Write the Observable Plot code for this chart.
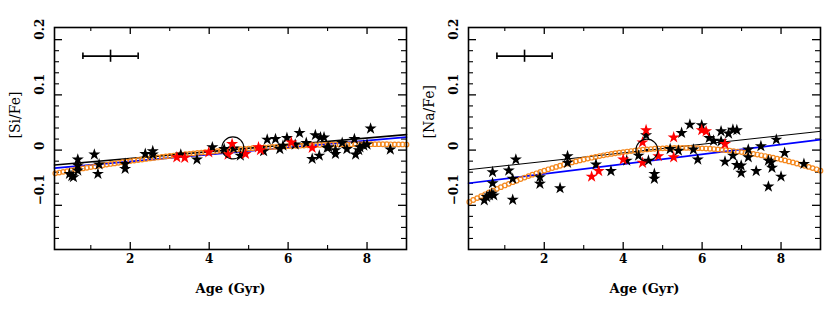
<!DOCTYPE html>
<html><head><meta charset="utf-8">
<script src="https://cdn.jsdelivr.net/npm/d3@7"></script>
<script src="https://cdn.jsdelivr.net/npm/@observablehq/plot@0.6"></script>
<style>
body{margin:0;background:#fff;}
#c{display:flex;width:830px;height:311px;}
#c svg{display:block;flex:none}
</style>
</head><body><div id="c"></div><script>
// ---------- axes ----------
const xDomain = [0.08, 9];
const yDomain = [-0.18, 0.222];
const xMajor = [2, 4, 6, 8];
const xMinor = [1, 3, 5, 7];
const yMajor = [-0.1, 0, 0.1, 0.2];
const yMinor = [-0.16,-0.14,-0.12,-0.08,-0.06,-0.04,-0.02,0.02,0.04,0.06,0.08,0.12,0.14,0.16,0.18];
const xLabel = "Age (Gyr)";
const yLabels = ["[Si/Fe]", "[Na/Fe]"];

// ---------- error bar ----------
const errX = [0.8, 1.5, 2.2];
const errY = 0.17;

// ---------- [Si/Fe] ----------
const siBlackAge = [0.46,0.52,0.56,0.67,0.67,0.67,1.09,1.18,1.21,1.87,1.87,2.38,2.57,2.57,3.28,3.69,4.08,4.38,4.62,4.79,5.38,5.47,5.68,5.79,5.87,5.97,6.18,6.29,6.46,6.61,6.69,6.79,6.82,6.91,6.99,7.03,7.20,7.20,7.37,7.49,7.68,7.71,7.79,7.82,7.92,8.00,8.09,8.59];
const siBlackVal = [-0.043,-0.047,-0.049,-0.017,-0.028,-0.037,-0.008,-0.043,-0.026,-0.025,-0.034,-0.007,-0.002,-0.008,-0.008,-0.017,0.005,0.002,0.003,-0.010,-0.002,0.019,0.020,0.002,0.008,0.022,0.010,0.031,0.013,-0.016,0.027,-0.010,0.023,0.023,0.004,0.005,0.000,-0.007,0.013,0.002,0.020,-0.008,0.000,0.005,0.008,0.010,0.039,0.001];
const siRedAge = [3.18,3.38,3.99,4.48,4.58,4.92,5.25,5.30,6.08,6.61];
const siRedVal = [-0.013,-0.014,-0.004,-0.008,0.011,-0.007,0.005,0.000,0.014,0.004];
const siFitVal = [-0.0420,-0.0407,-0.0394,-0.0381,-0.0368,-0.0356,-0.0344,-0.0331,-0.0320,-0.0308,
  -0.0296,-0.0285,-0.0274,-0.0262,-0.0251,-0.0241,-0.0230,-0.0220,-0.0209,-0.0199,
  -0.0189,-0.0179,-0.0170,-0.0160,-0.0151,-0.0142,-0.0133,-0.0124,-0.0115,-0.0107,
  -0.0099,-0.0091,-0.0083,-0.0075,-0.0067,-0.0060,-0.0052,-0.0045,-0.0038,-0.0031,
  -0.0025,-0.0018,-0.0012,-0.0006,0.0000,0.0006,0.0012,0.0017,0.0023,0.0028,
  0.0033,0.0038,0.0043,0.0047,0.0051,0.0056,0.0060,0.0064,0.0067,0.0071,
  0.0074,0.0077,0.0080,0.0083,0.0086,0.0088,0.0091,0.0093,0.0095,0.0097,
  0.0099,0.0100,0.0102,0.0103,0.0104,0.0105,0.0106,0.0106,0.0107,0.0107,
  0.0107,0.0107,0.0107,0.0106,0.0106,0.0105,0.0104,0.0103,0.0102,0.0100];
const siBlackLine = [-0.027, 0.028];
const siBlueLine = [-0.0325, 0.0235];
const siSun = [4.6, 0.004];

// ---------- [Na/Fe] ----------
const naBlackAge = [0.48,0.54,0.61,0.67,0.72,0.69,0.69,1.10,1.20,1.20,1.28,1.89,1.89,2.40,2.59,2.59,3.31,3.69,4.09,4.39,4.58,4.64,4.79,4.79,5.19,5.40,5.48,5.69,5.78,5.89,5.99,6.18,6.29,6.48,6.48,6.58,6.67,6.78,6.78,6.88,6.88,6.99,6.99,7.17,7.17,7.37,7.49,7.68,7.68,7.75,7.77,7.88,8.00,8.09,8.58];
const naBlackVal = [-0.091,-0.085,-0.082,-0.079,-0.082,-0.040,-0.060,-0.037,-0.052,-0.090,-0.017,-0.049,-0.061,-0.069,-0.011,-0.023,-0.026,-0.038,-0.019,-0.010,0.027,-0.019,-0.043,-0.052,0.002,-0.001,0.031,0.046,0.001,-0.017,0.045,0.022,0.017,0.034,0.016,-0.021,0.030,0.037,-0.010,0.036,-0.027,-0.041,-0.028,0.001,-0.013,-0.038,0.007,-0.019,-0.066,-0.022,-0.032,0.019,-0.048,-0.005,-0.025];
const naRedAge = [3.20,3.38,4.00,4.49,4.49,4.58,4.89,5.28,5.28,5.99,6.10,6.58];
const naRedVal = [-0.048,-0.038,-0.017,0.014,-0.023,0.036,-0.011,0.023,-0.013,0.036,0.034,0.011];
const naFitVal = [-0.0940,-0.0904,-0.0869,-0.0834,-0.0800,-0.0767,-0.0734,-0.0702,-0.0671,-0.0640,
  -0.0611,-0.0581,-0.0553,-0.0525,-0.0498,-0.0471,-0.0445,-0.0420,-0.0395,-0.0372,
  -0.0348,-0.0326,-0.0304,-0.0283,-0.0262,-0.0243,-0.0223,-0.0205,-0.0187,-0.0170,
  -0.0154,-0.0138,-0.0123,-0.0108,-0.0094,-0.0081,-0.0069,-0.0057,-0.0046,-0.0036,
  -0.0026,-0.0017,-0.0008,-0.0001,0.0006,0.0013,0.0019,0.0024,0.0028,0.0032,
  0.0035,0.0037,0.0039,0.0040,0.0040,0.0040,0.0039,0.0037,0.0035,0.0032,
  0.0028,0.0024,0.0019,0.0013,0.0006,-0.0001,-0.0008,-0.0017,-0.0026,-0.0036,
  -0.0046,-0.0057,-0.0069,-0.0081,-0.0094,-0.0108,-0.0123,-0.0138,-0.0154,-0.0170,
  -0.0187,-0.0205,-0.0223,-0.0243,-0.0262,-0.0283,-0.0304,-0.0326,-0.0348,-0.0372];
const naBlackLine = [-0.0355, 0.034];
const naBlueLine = [-0.060, 0.019];
const naSun = [4.6, 0.000];

// fit ages: 0.1 .. 9.0 Gyr, one circle per 0.1 Gyr
const fitAge = [0.1,0.2,0.3,0.4,0.5,0.6,0.7,0.8,0.9,1.0,1.1,1.2,1.3,1.4,1.5,1.6,1.7,1.8,1.9,2.0,
  2.1,2.2,2.3,2.4,2.5,2.6,2.7,2.8,2.9,3.0,3.1,3.2,3.3,3.4,3.5,3.6,3.7,3.8,3.9,4.0,
  4.1,4.2,4.3,4.4,4.5,4.6,4.7,4.8,4.9,5.0,5.1,5.2,5.3,5.4,5.5,5.6,5.7,5.8,5.9,6.0,
  6.1,6.2,6.3,6.4,6.5,6.6,6.7,6.8,6.9,7.0,7.1,7.2,7.3,7.4,7.5,7.6,7.7,7.8,7.9,8.0,
  8.1,8.2,8.3,8.4,8.5,8.6,8.7,8.8,8.9,9.0];
const lineAge = [0.08, 9];

const zip = (a, b) => a.map((x, i) => ({x, y: b[i]}));
const fmtY = d => d === 0 ? "0" : (d < 0 ? "\u2212" + String(-d) : String(d));

function panel({ylabel, black, red, fit, blackLine, blueLine, sun, ml, mr, blackW}) {
  const W = 415, H = 311, mt = 27, mb = 62;
  const pw = W - ml - mr, ph = H - mt - mb;
  return Plot.plot({
    width: W, height: H,
    marginLeft: ml, marginRight: mr, marginTop: mt, marginBottom: mb,
    x: {domain: xDomain, axis: null},
    y: {domain: yDomain, axis: null},
    style: {fontFamily: "DejaVu Serif", fontSize: "12px", fontWeight: "bold", color: "black", background: "white", overflow: "visible"},
    marks: [
      // inward ticks
      Plot.tickY(yMajor, {y: d => d, insetRight: pw - 8, stroke: "black", strokeWidth: 1.3}),
      Plot.tickY(yMinor, {y: d => d, insetRight: pw - 5, stroke: "black", strokeWidth: 1.1}),
      Plot.tickY(yMajor, {y: d => d, insetLeft: pw - 8, stroke: "black", strokeWidth: 1.3}),
      Plot.tickY(yMinor, {y: d => d, insetLeft: pw - 5, stroke: "black", strokeWidth: 1.1}),
      Plot.tickX(xMajor, {x: d => d, insetTop: ph - 7, stroke: "black", strokeWidth: 1.3}),
      Plot.tickX(xMinor, {x: d => d, insetTop: ph - 4, stroke: "black", strokeWidth: 1.1}),
      Plot.tickX(xMajor, {x: d => d, insetBottom: ph - 7, stroke: "black", strokeWidth: 1.3}),
      Plot.tickX(xMinor, {x: d => d, insetBottom: ph - 4, stroke: "black", strokeWidth: 1.1}),
      // fits
      Plot.line(zip(lineAge, blackLine), {x: "x", y: "y", stroke: "black", strokeWidth: blackW}),
      Plot.line(zip(lineAge, blueLine), {x: "x", y: "y", stroke: "#0000ff", strokeWidth: 1.7}),
      Plot.dot(zip(fitAge, fit), {x: "x", y: "y", r: 2.3, stroke: "#f5891f", strokeWidth: 1.2, fill: "none"}),
      // stars
      Plot.dot(black, {x: "x", y: "y", symbol: "star", r: 3.8, fill: "black", stroke: "none"}),
      Plot.dot(red, {x: "x", y: "y", symbol: "star", r: 3.8, fill: "#ff0000", stroke: "none"}),
      // sun
      Plot.dot([sun], {x: d => d[0], y: d => d[1], r: 11, stroke: "black", strokeWidth: 1.1, fill: "none"}),
      Plot.dot([sun], {x: d => d[0], y: d => d[1], r: 1.3, fill: "black", stroke: "none"}),
      // error bar
      Plot.ruleY([errY], {y: d => d, x1: errX[0], x2: errX[2], stroke: "black", strokeWidth: 1.8}),
      Plot.ruleX([errX[0], errX[2]], {x: d => d, y1: errY - 0.006, y2: errY + 0.006, stroke: "black", strokeWidth: 1.6}),
      Plot.ruleX([errX[1]], {x: d => d, y1: errY - 0.011, y2: errY + 0.011, stroke: "black", strokeWidth: 1.6}),
      // frame
      Plot.frame({stroke: "black", strokeWidth: 1.6}),
      // labels
      Plot.text(yMajor, {y: d => d, frameAnchor: "left", dx: -14, rotate: -90, text: fmtY, fill: "black"}),
      Plot.text(xMajor, {x: d => d, frameAnchor: "bottom", dy: 13, text: d => String(d), fill: "black"}),
      Plot.text([xLabel], {frameAnchor: "bottom", dy: 43, text: d => d, fontSize: 13, fill: "black"}),
      Plot.text([ylabel], {frameAnchor: "left", dx: -39, rotate: -90, text: d => d, fontSize: 14, fontWeight: "normal", fill: "black"})
    ]
  });
}

const c = document.getElementById("c");
c.appendChild(panel({ylabel: yLabels[0], black: zip(siBlackAge, siBlackVal), red: zip(siRedAge, siRedVal), fit: siFitVal, blackLine: siBlackLine, blueLine: siBlueLine, sun: siSun, ml: 54, mr: 9, blackW: 1.6}));
c.appendChild(panel({ylabel: yLabels[1], black: zip(naBlackAge, naBlackVal), red: zip(naRedAge, naRedVal), fit: naFitVal, blackLine: naBlackLine, blueLine: naBlueLine, sun: naSun, ml: 53, mr: 10, blackW: 1}));
</script></body></html>
